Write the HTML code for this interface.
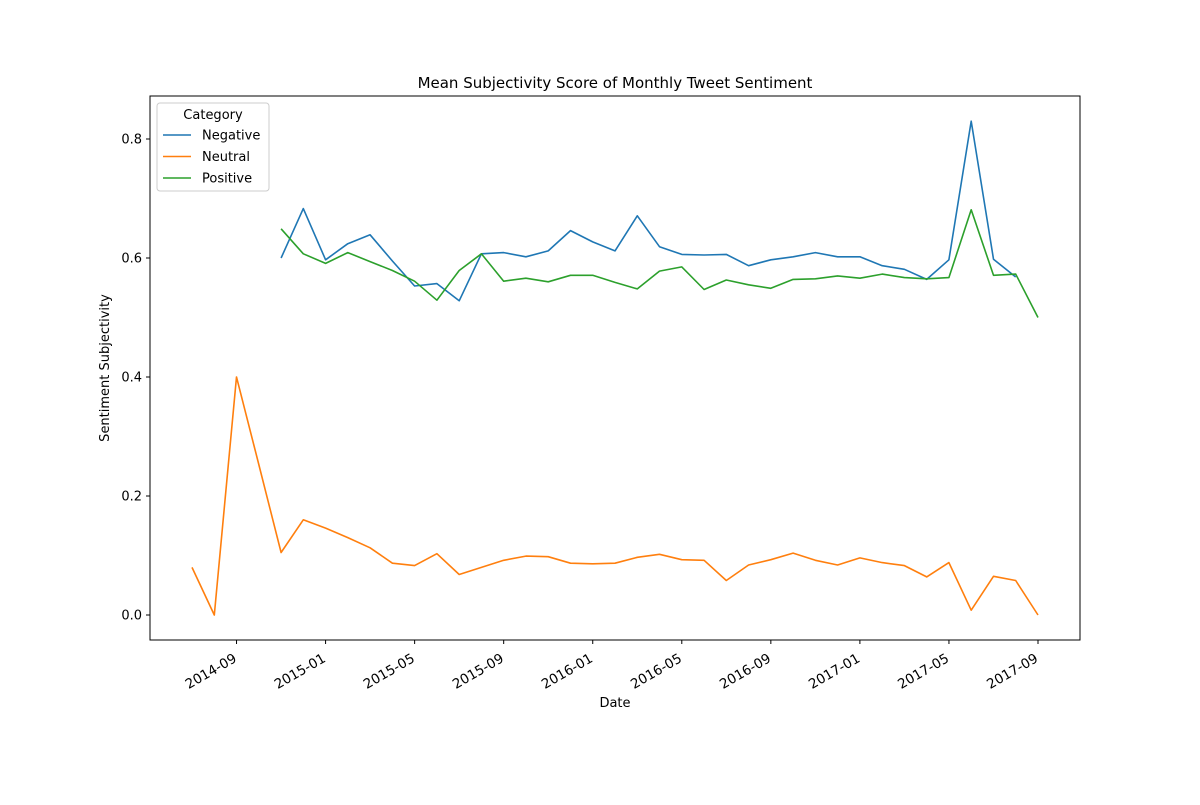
<!DOCTYPE html>
<html><head><meta charset="utf-8"><style>
body{margin:0;background:#fff;}
svg{font-family:"DejaVu Sans","Liberation Sans",sans-serif;}
</style></head><body>
<svg id="chart" width="1200" height="800">
<rect width="1200" height="800" fill="#fff"/>
<text x="615" y="88" font-size="15" text-anchor="middle">Mean Subjectivity Score of Monthly Tweet Sentiment</text>
<text x="615" y="707" font-size="13" text-anchor="middle">Date</text>
<text transform="translate(109,368) rotate(-90)" font-size="13" text-anchor="middle">Sentiment Subjectivity</text>
<g id="grid"></g>
<g id="series"></g>
<rect x="150" y="96" width="930" height="544" fill="none" stroke="#000" stroke-width="1"/>
<g id="legend"></g>
</svg>
<script>
const months = ["2014-07","2014-08","2014-09","2014-10","2014-11","2014-12","2015-01","2015-02","2015-03","2015-04","2015-05","2015-06","2015-07","2015-08","2015-09","2015-10","2015-11","2015-12","2016-01","2016-02","2016-03","2016-04","2016-05","2016-06","2016-07","2016-08","2016-09","2016-10","2016-11","2016-12","2017-01","2017-02","2017-03","2017-04","2017-05","2017-06","2017-07","2017-08","2017-09"];
const neutral = [0.080,0.000,0.400,0.253,0.105,0.160,0.146,0.130,0.113,0.087,0.083,0.103,0.068,0.080,0.092,0.099,0.098,0.087,0.086,0.087,0.097,0.102,0.093,0.092,0.058,0.084,0.093,0.104,0.092,0.084,0.096,0.088,0.083,0.064,0.088,0.008,0.065,0.058,0.000];
const negative = [null,null,null,null,0.600,0.683,0.597,0.624,0.639,0.595,0.553,0.557,0.528,0.607,0.609,0.602,0.612,0.646,0.627,0.612,0.671,0.619,0.606,0.605,0.606,0.587,0.597,0.602,0.609,0.602,0.602,0.587,0.581,0.564,0.597,0.830,0.598,0.568,null];
const positive = [null,null,null,null,0.649,0.607,0.591,0.609,0.594,0.579,0.561,0.529,0.579,0.607,0.561,0.566,0.560,0.571,0.571,0.559,0.548,0.578,0.585,0.547,0.563,0.555,0.549,0.564,0.565,0.570,0.566,0.573,0.567,0.565,0.567,0.681,0.571,0.573,0.500];
const yTicks = [0.0,0.2,0.4,0.6,0.8];
const xTickLabels = ["2014-09","2015-01","2015-05","2015-09","2016-01","2016-05","2016-09","2017-01","2017-05","2017-09"];
const seriesNames = ["Negative","Neutral","Positive"];
const colors = ["#1f77b4","#ff7f0e","#2ca02c"];

const NS="http://www.w3.org/2000/svg";
const x = i => 192 + i*(1038-192)/38;
const y = v => 615 - v*595;
function mk(tag,attrs,parent){const e=document.createElementNS(NS,tag);for(const k in attrs)e.setAttribute(k,attrs[k]);parent.appendChild(e);return e;}
const grid=document.getElementById('grid');
yTicks.forEach(t=>{
  const l=mk('line',{x1:146,x2:150,y1:y(t),y2:y(t),stroke:'#000'},grid);
  
  
  const tx=mk('text',{x:142,y:y(t)+4.5,'font-size':13,'text-anchor':'end'},grid);
  tx.textContent=t.toFixed(1);
  
  
});
xTickLabels.forEach(lab=>{
  const i=months.indexOf(lab);const px=x(i);
  const l=mk('line',{x1:px,x2:px,y1:640,y2:644,stroke:'#000'},grid);
  
  
  const tx=mk('text',{transform:`translate(${px+1},${661}) rotate(-30)`,'font-size':13.5,'text-anchor':'end'},grid);
  tx.textContent=lab;
  
  
});
const ser=document.getElementById('series');
[negative,neutral,positive].forEach((arr,si)=>{
  let d='';let pen=false;
  arr.forEach((v,i)=>{if(v==null){pen=false;return;}d+=(pen?'L':'M')+x(i).toFixed(1)+','+y(v).toFixed(1);pen=true;});
  const p=mk('path',{d:d,fill:'none',stroke:colors[si],'stroke-width':1.6,'stroke-linejoin':'round'},ser);
  
  
});
const lg=document.getElementById('legend');
mk('rect',{x:157,y:103,width:112,height:88,rx:3,fill:'#fff','fill-opacity':0.8,stroke:'#ccc'},lg);
const lt=mk('text',{x:213,y:119,'font-size':13,'text-anchor':'middle'},lg);lt.textContent='Category';
seriesNames.forEach((n,i)=>{
  const yy=135+i*21.5;
  const ln=mk('line',{x1:163,x2:191,y1:yy,y2:yy,stroke:colors[i],'stroke-width':1.6},lg);
  
  
  const t=mk('text',{x:202,y:yy+4.5,'font-size':13},lg);t.textContent=n;
  
  
});
</script>
</body></html>
